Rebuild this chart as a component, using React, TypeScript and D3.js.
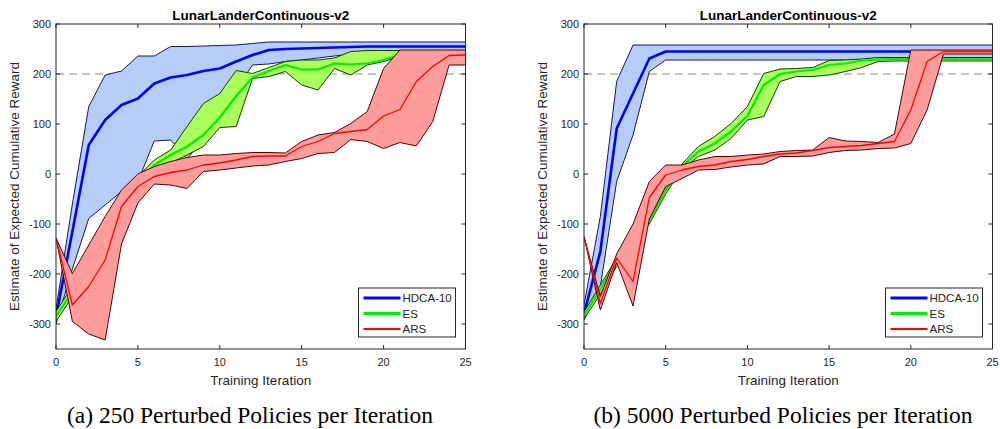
import React from 'react';
import * as d3 from 'd3';

// Training iterations (x values) shared by every series
const iterations = [0, 1, 2, 3, 4, 5, 6, 7, 8, 9, 10, 11, 12, 13, 14, 15, 16, 17, 18, 19, 20, 21, 22, 23, 24, 25];
const xTicks = [0, 5, 10, 15, 20, 25];
const yTicks = [-300, -200, -100, 0, 100, 200, 300];
const seriesNames = ['HDCA-10', 'ES', 'ARS'];
const chartTitle = 'LunarLanderContinuous-v2';
const xLabel = 'Training Iteration';
const yLabel = 'Estimate of Expected Cumulative Reward';
const captions = ['(a) 250 Perturbed Policies per Iteration', '(b) 5000 Perturbed Policies per Iteration'];

// (a) 250 perturbed policies
const aHdcaMean = [-285, -115, 58, 108, 138, 151, 181, 193, 198, 206, 211, 225, 238, 248, 250, 251, 252, 253, 254, 255, 255, 255, 255, 255, 255, 255];
const aHdcaLow = [-300, -190, -89, -62, -35, -15, 66, 68, 30, 70, 120, 170, 218, 220, 225, 228, 232, 236, 240, 244, 246, 246, 246, 246, 246, 246];
const aHdcaHigh = [-270, -60, 135, 198, 206, 236, 236, 255, 255, 256, 257, 258, 261, 264, 264, 264, 264, 264, 264, 264, 264, 264, 264, 264, 264, 264];
const aEsMean = [-285, -235, -180, -130, -75, -25, 18, 38, 55, 78, 113, 156, 193, 206, 218, 209, 209, 221, 219, 221, 228, 238, 238, 238, 238, 238];
const aEsLow = [-295, -245, -190, -140, -85, -45, 8, 22, 38, 55, 93, 95, 191, 195, 205, 178, 168, 211, 198, 218, 225, 235, 235, 235, 235, 235];
const aEsHigh = [-275, -225, -170, -120, -65, -5, 28, 48, 95, 141, 161, 207, 201, 213, 225, 228, 228, 232, 245, 247, 247, 247, 247, 247, 247, 247];
const aArsMean = [-128, -262, -225, -172, -65, -25, -5, 3, 8, 18, 22, 28, 35, 36, 36, 55, 65, 81, 85, 89, 116, 129, 185, 215, 237, 238];
const aArsLow = [-128, -295, -320, -332, -140, -58, -20, -22, -29, 5, 8, 12, 16, 18, 25, 31, 41, 43, 69, 65, 51, 63, 56, 105, 218, 218];
const aArsHigh = [-128, -199, -142, -85, -32, 0, 15, 25, 33, 38, 38, 41, 43, 43, 42, 65, 78, 83, 101, 125, 211, 248, 248, 248, 248, 248];

// (b) 5000 perturbed policies
const bHdcaMean = [-280, -155, 91, 161, 231, 245, 245, 245, 245, 245, 245, 245, 245, 245, 245, 245, 245, 245, 245, 245, 245, 245, 245, 245, 245, 245];
const bHdcaLow = [-292, -225, -15, 78, 205, 228, 228, 228, 228, 228, 228, 228, 228, 228, 228, 228, 228, 228, 228, 228, 228, 228, 228, 228, 228, 228];
const bHdcaHigh = [-262, -85, 185, 258, 258, 258, 258, 258, 258, 258, 258, 258, 258, 258, 258, 258, 258, 258, 258, 258, 258, 258, 258, 258, 258, 258];
const bEsMean = [-283, -230, -175, -130, -92, -32, 15, 45, 61, 85, 116, 178, 200, 205, 208, 218, 221, 227, 229, 230, 230, 230, 230, 230, 230, 230];
const bEsLow = [-290, -240, -185, -140, -100, -40, 10, 35, 48, 71, 108, 115, 185, 195, 195, 198, 205, 213, 225, 226, 226, 226, 226, 226, 226, 226];
const bEsHigh = [-276, -222, -168, -120, -85, -25, 20, 55, 75, 101, 135, 201, 210, 211, 213, 227, 228, 230, 233, 233, 233, 233, 233, 233, 233, 233];
const bArsMean = [-125, -259, -168, -215, -47, -2, 8, 15, 18, 25, 29, 35, 40, 42, 47, 53, 55, 57, 61, 65, 128, 225, 245, 245, 245, 245];
const bArsLow = [-125, -272, -177, -264, -90, -25, -9, 8, 9, 14, 18, 20, 35, 35, 36, 43, 47, 48, 51, 52, 61, 128, 240, 240, 240, 240];
const bArsHigh = [-125, -245, -160, -100, -15, 18, 18, 28, 35, 35, 38, 40, 45, 47, 48, 73, 66, 65, 63, 80, 248, 248, 248, 248, 248, 248];

const styles = [
  { fill: '#b5cdf7', edge: '#15155c', line: '#0000ff', width: 2.6, legendWidth: 3 },
  { fill: '#abff5c', edge: '#0d3b0d', line: '#00ee00', width: 2.2, legendWidth: 3 },
  { fill: '#ff9c9c', edge: '#4d0000', line: '#ff0000', width: 1.3, legendWidth: 1.8 },
];

const panels = [
  {
    left: 56, right: 465.5, captionX: 250,
    series: [
      { mean: aHdcaMean, low: aHdcaLow, high: aHdcaHigh },
      { mean: aEsMean, low: aEsLow, high: aEsHigh },
      { mean: aArsMean, low: aArsLow, high: aArsHigh },
    ],
  },
  {
    left: 584, right: 992.5, captionX: 783,
    series: [
      { mean: bHdcaMean, low: bHdcaLow, high: bHdcaHigh },
      { mean: bEsMean, low: bEsLow, high: bEsHigh },
      { mean: bArsMean, low: bArsLow, high: bArsHigh },
    ],
  },
];

const TOP = 24;
const BOTTOM = 349;
const axisColor = '#262626';
const sans = '"Liberation Sans", Arial, Helvetica, sans-serif';

function Panel({ panel, caption }) {
  const x = d3.scaleLinear().domain([0, 25]).range([panel.left, panel.right]);
  const y = d3.scaleLinear().domain([-350, 300]).range([BOTTOM, TOP]);
  const w = panel.right - panel.left;

  const area = d3.area()
    .x((d) => x(d[0]))
    .y0((d) => y(d[1]))
    .y1((d) => y(d[2]));
  const line = d3.line()
    .x((d) => x(d[0]))
    .y((d) => y(d[1]));

  const legendX = panel.right - 107;
  const legendY = 288;

  return (
    <g>
      <defs>
        <clipPath id={`clip-${panel.left}`}>
          <rect x={panel.left} y={TOP} width={w} height={BOTTOM - TOP} />
        </clipPath>
      </defs>
      <g clipPath={`url(#clip-${panel.left})`}>
        <line x1={panel.left} x2={panel.right} y1={y(200)} y2={y(200)}
          stroke="#b3b3b3" strokeWidth={1.5} strokeDasharray="8,5" />
        {panel.series.map((s, k) => {
          const band = iterations.map((it, i) => [it, s.low[i], s.high[i]]);
          const mean = iterations.map((it, i) => [it, s.mean[i]]);
          const st = styles[k];
          return (
            <g key={k}>
              <path d={area(band)} fill={st.fill} stroke={st.edge} strokeWidth={1} strokeLinejoin="round" />
              <path d={line(mean)} fill="none" stroke={st.line} strokeWidth={st.width} strokeLinejoin="round" />
            </g>
          );
        })}
      </g>

      {/* axes box and inward ticks */}
      <rect x={panel.left} y={TOP} width={w} height={BOTTOM - TOP} fill="none" stroke={axisColor} strokeWidth={1} />
      {xTicks.map((t) => (
        <g key={`x${t}`}>
          <line x1={x(t)} x2={x(t)} y1={BOTTOM} y2={BOTTOM - 4} stroke={axisColor} />
          <line x1={x(t)} x2={x(t)} y1={TOP} y2={TOP + 4} stroke={axisColor} />
          <text x={x(t)} y={366} textAnchor="middle" fontFamily={sans} fontSize={11} fill={axisColor}>{t}</text>
        </g>
      ))}
      {yTicks.map((t) => (
        <g key={`y${t}`}>
          <line x1={panel.left} x2={panel.left + 4} y1={y(t)} y2={y(t)} stroke={axisColor} />
          <line x1={panel.right} x2={panel.right - 4} y1={y(t)} y2={y(t)} stroke={axisColor} />
          <text x={panel.left - 5} y={y(t) + 4} textAnchor="end" fontFamily={sans} fontSize={11} fill={axisColor}>{t}</text>
        </g>
      ))}

      <text x={(panel.left + panel.right) / 2} y={19.5} textAnchor="middle" fontFamily={sans} fontSize={13.5} fontWeight="bold" fill="#000">{chartTitle}</text>
      <text x={(panel.left + panel.right) / 2} y={385} textAnchor="middle" fontFamily={sans} fontSize={13.5} fill={axisColor}>{xLabel}</text>
      <text transform={`translate(${panel.left - 37},${(TOP + BOTTOM) / 2}) rotate(-90)`} textAnchor="middle"
        fontFamily={sans} fontSize={13.5} fill={axisColor}>{yLabel}</text>

      {/* legend */}
      <rect x={legendX} y={legendY} width={97} height={49} fill="#fff" stroke={axisColor} strokeWidth={1} />
      {seriesNames.map((name, k) => (
        <g key={name}>
          <line x1={legendX + 5} x2={legendX + 42} y1={legendY + 10 + k * 15.5} y2={legendY + 10 + k * 15.5}
            stroke={styles[k].line} strokeWidth={styles[k].legendWidth} />
          <text x={legendX + 44} y={legendY + 14 + k * 15.5} fontFamily={sans} fontSize={11.5} fill={axisColor}>{name}</text>
        </g>
      ))}

      <text x={panel.captionX} y={423} textAnchor="middle" fontFamily='"Liberation Serif", "Times New Roman", serif'
        fontSize={23.5} fill="#000">{caption}</text>
    </g>
  );
}

export default function App() {
  return (
    <div style={{ position: 'absolute', left: 0, top: 0 }}>
      <svg width={1000} height={429} style={{ display: 'block', background: '#fff' }}>
        {panels.map((p, i) => (
          <Panel key={i} panel={p} caption={captions[i]} />
        ))}
      </svg>
    </div>
  );
}
